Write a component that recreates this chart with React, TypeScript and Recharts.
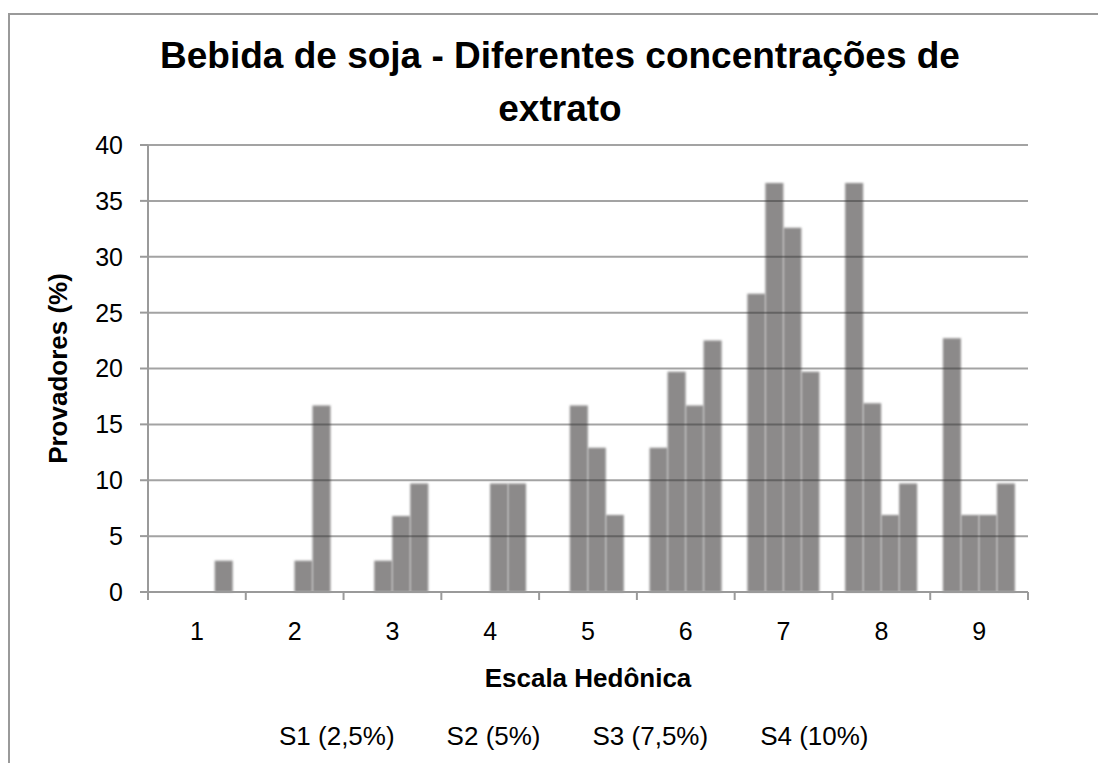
import React from 'react';
import { BarChart, Bar, XAxis, YAxis, ReferenceLine, Label } from 'recharts';

// Escala hedônica 1..9, % de provadores por concentração de extrato
const categories = ['1', '2', '3', '4', '5', '6', '7', '8', '9'];
const seriesNames = ['S1 (2,5%)', 'S2 (5%)', 'S3 (7,5%)', 'S4 (10%)'];
const s1 = [0, 0, 0, 0, 0, 12.9, 26.7, 36.6, 22.7];
const s2 = [0, 0, 2.8, 0, 16.7, 19.7, 36.6, 16.9, 6.9];
const s3 = [0, 2.8, 6.8, 9.7, 12.9, 16.7, 32.6, 6.9, 6.9];
const s4 = [2.8, 16.7, 9.7, 9.7, 6.9, 22.5, 19.7, 9.7, 9.7];
const yTicks = [0, 5, 10, 15, 20, 25, 30, 35, 40];

const seriesKeys = ['s1', 's2', 's3', 's4'];
const data = categories.map((c, i) => ({ escala: c, s1: s1[i], s2: s2[i], s3: s3[i], s4: s4[i] }));

const FONT = '"Liberation Sans", Arial, sans-serif';
const AXIS = '#9a9a9a';
const BAR = '#8c8a8a';

// tick label at the category centre, tick marks at the category edges
const HedonicTick = (props: any) => {
  const { x, y, payload, index, visibleTicksCount } = props;
  const half = payload.offset ?? 880 / 9 / 2;
  const top = y - 30;
  return (
    <g>
      <line x1={x - half} x2={x - half} y1={top} y2={top + 8} stroke={AXIS} strokeWidth={2} />
      {index === visibleTicksCount - 1 && (
        <line x1={x + half} x2={x + half} y1={top} y2={top + 8} stroke={AXIS} strokeWidth={2} />
      )}
      <text x={x} y={y} dy="0.71em" textAnchor="middle" fontSize={25} fill="#000">
        {payload.value}
      </text>
    </g>
  );
};

export default function App() {
  return (
    <div style={{ position: 'fixed', left: 0, top: 0, width: 1098, height: 763, overflow: 'hidden', background: '#fff', fontFamily: FONT }}>
      <svg width={0} height={0} style={{ position: 'absolute' }}>
        <defs>
          <filter id="barSoft" x="-5%" y="-5%" width="110%" height="110%">
            <feGaussianBlur stdDeviation="1.2" />
          </filter>
        </defs>
      </svg>
      <style>{`.recharts-bar-rectangles { filter: url(#barSoft); }`}</style>
      <div style={{ position: 'absolute', left: 8, top: 13, width: 1200, height: 800, borderTop: `2px solid ${AXIS}`, borderLeft: `2px solid ${AXIS}` }} />
      <div style={{ position: 'absolute', left: 60, top: 29, width: 1000, textAlign: 'center', fontSize: 37, fontWeight: 'bold', lineHeight: '53px', color: '#000' }}>
        Bebida de soja - Diferentes concentrações de
        <br />
        extrato
      </div>
      <div style={{ position: 'absolute', left: 0, top: 0 }}>
        <BarChart
          width={1098}
          height={763}
          data={data}
          margin={{ top: 145, right: 70, bottom: 0, left: 0 }}
          barCategoryGap="13%"
          barGap={0}
        >
          <XAxis
            dataKey="escala"
            height={171}
            axisLine={{ stroke: AXIS, strokeWidth: 2 }}
            tickLine={false}
            tickSize={8}
            tickMargin={22}
            tick={<HedonicTick />}
            interval={0}
          >
            <Label value="Escala Hedônica" position="insideBottom" offset={76} fontSize={26} fontWeight="bold" fill="#000" />
          </XAxis>
          <YAxis
            width={148}
            domain={[0, 40]}
            ticks={yTicks}
            interval={0}
            axisLine={{ stroke: AXIS, strokeWidth: 2 }}
            tickLine={{ stroke: AXIS, strokeWidth: 2 }}
            tickSize={8}
            tickMargin={17}
            tick={{ fontSize: 25, fill: '#000' }}
          >
            <Label
              value="Provadores (%)"
              angle={-90}
              position="insideLeft"
              offset={58}
              fontSize={26}
              fontWeight="bold"
              fill="#000"
              style={{ textAnchor: 'middle' }}
            />
          </YAxis>
          {seriesKeys.map((k, i) => (
            <Bar key={k} dataKey={k} name={seriesNames[i]} fill={BAR} isAnimationActive={false} />
          ))}
          {yTicks.filter((t) => t > 0).map((t) => (
            <ReferenceLine key={t} y={t} stroke="#333" strokeOpacity={0.45} strokeWidth={2} />
          ))}
        </BarChart>
      </div>
      <div style={{ position: 'absolute', left: 279, top: 721, display: 'flex', gap: 52, fontSize: 26, lineHeight: '30px', color: '#000', whiteSpace: 'nowrap' }}>
        {seriesNames.map((n) => (
          <span key={n}>{n}</span>
        ))}
      </div>
    </div>
  );
}
